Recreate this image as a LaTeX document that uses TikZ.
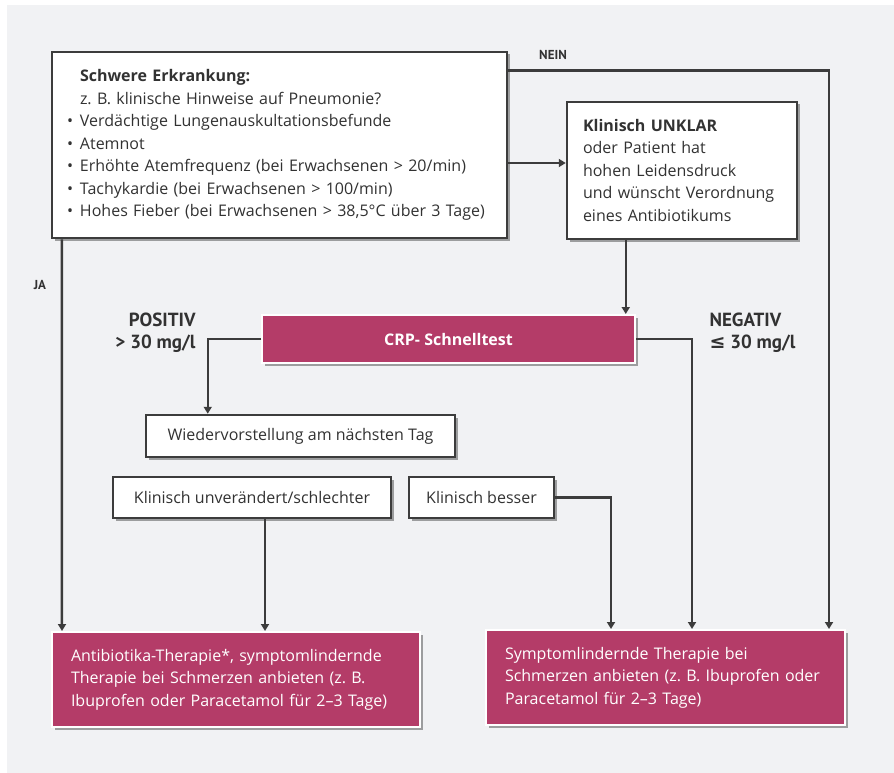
\documentclass[tikz,border=0pt]{standalone}
\usepackage{fontspec}
\setmainfont{Open Sans}
\newfontfamily\labelfont{PT Sans}
\newfontfamily\symbfont{DejaVu Sans}
\usepackage{tikz}
\usetikzlibrary{arrows.meta}
\usetikzlibrary{shadows}
\definecolor{bgray}{RGB}{241,242,244}
\definecolor{framegray}{RGB}{60,60,60}
\definecolor{textgray}{RGB}{50,50,50}
\definecolor{crpred}{RGB}{180,60,104}
\newcommand{\blt}{\makebox[13pt][l]{\textbullet}}
\newcommand{\ind}{\hspace*{13pt}}
\frenchspacing
\begin{document}
\begin{tikzpicture}[x=1pt,y=-1pt,
  every node/.style={font=\fontsize{16}{22.5}\selectfont, text=textgray},
  shade/.style={drop shadow={shadow xshift=2.5pt,shadow yshift=-2.5pt,opacity=0.35,fill=black}},
  whitebox/.style={draw=framegray, line width=2.5pt, fill=white, shade, inner sep=0pt},
  redbox/.style={draw=white, line width=2pt, fill=crpred, shade, inner sep=0pt, text=white},
  label/.style={font=\labelfont\fontsize{19}{22}\selectfont\bfseries, text=textgray},
  small label/.style={font=\labelfont\fontsize{13}{15}\selectfont\bfseries, text=textgray},
  arr/.style={draw=framegray, line width=2.5pt, -{Triangle[width=8pt,length=7pt]}}]
  \useasboundingbox (0,0) rectangle (894,773);
  \fill[bgray] (7,5) rectangle (894,773);

  \node[whitebox, minimum width=455pt, minimum height=186pt, text width=425pt, align=left] (erkrankung) at (279.5,145)
    {\ind\textbf{Schwere Erkrankung:}\\
     \ind z. B. klinische Hinweise auf Pneumonie?\\
     \blt Verdächtige Lungenauskultationsbefunde\\
     \blt Atemnot\\
     \blt Erhöhte Atemfrequenz (bei Erwachsenen > 20/min)\\
     \blt Tachykardie (bei Erwachsenen > 100/min)\\
     \blt Hohes Fieber (bei Erwachsenen > 38,5°C über 3 Tage)};
  \node[whitebox, minimum width=230pt, minimum height=137pt, text width=198pt, align=left] (unklar) at (682,170.5)
    {\textbf{Klinisch UNKLAR}\\
     oder Patient hat\\
     hohen Leidensdruck\\
     und wünscht Verordnung\\
     eines Antibiotikums};
  \node[redbox, minimum width=373pt, minimum height=48pt, font=\fontsize{16}{18}\selectfont\bfseries] (crp) at (448.5,339) {CRP- Schnelltest};
  \node[whitebox, minimum width=309pt, minimum height=42pt] (wieder) at (300.5,436) {Wiedervorstellung am nächsten Tag};
  \node[whitebox, minimum width=278pt, minimum height=41pt] (schlechter) at (252,497.5) {Klinisch unverändert/schlechter};
  \node[whitebox, minimum width=145pt, minimum height=41pt] (besser) at (481.5,497.5) {Klinisch besser};
  \node[redbox, minimum width=368pt, minimum height=95pt, text width=330pt, align=left] (antibiotika) at (236,679.5)
    {Antibiotika-Therapie*, symptomlindernde\\
     Therapie bei Schmerzen anbieten (z. B.\\
     Ibuprofen oder Paracetamol für 2–3 Tage)};
  \node[redbox, minimum width=359pt, minimum height=95pt, text width=321pt, align=left] (symptom) at (665.5,677.5)
    {Symptomlindernde Therapie bei\\
     Schmerzen anbieten (z. B. Ibuprofen oder\\
     Paracetamol für 2–3 Tage)};

  \node[small label] (nein) at (553,55) {NEIN};
  \node[small label] (ja) at (40,285) {JA};
  \node[label, align=right, anchor=east] (positiv) at (199,333) {POSITIV\\> 30 mg/l};
  \node[label, align=left, anchor=west] (negativ) at (706,333) {NEGATIV\\{\symbfont\bfseries ≤} 30 mg/l};

  \draw[arr] ([xshift=11pt]erkrankung.south west) -- ([xshift=11pt]antibiotika.north west);
  \draw[arr] ([yshift=-20pt]erkrankung.north east) -| ([xshift=-17pt]symptom.north east);
  \draw[arr] ([yshift=-18pt]erkrankung.east) -- ([yshift=-18pt]erkrankung.east -| unklar.west);
  \draw[arr] ([xshift=60pt]unklar.south west) -- ([xshift=60pt]unklar.south west |- crp.north);
  \draw[arr] (crp.west) -| ([xshift=63pt]wieder.north west);
  \draw[arr] (crp.east) -| ([xshift=207pt]symptom.north west);
  \draw[arr] (besser.east) -| ([xshift=126pt]symptom.north west);
  \draw[arr] ([xshift=13pt]schlechter.south) -- ([xshift=13pt]schlechter.south |- antibiotika.north);
\end{tikzpicture}
\end{document}
